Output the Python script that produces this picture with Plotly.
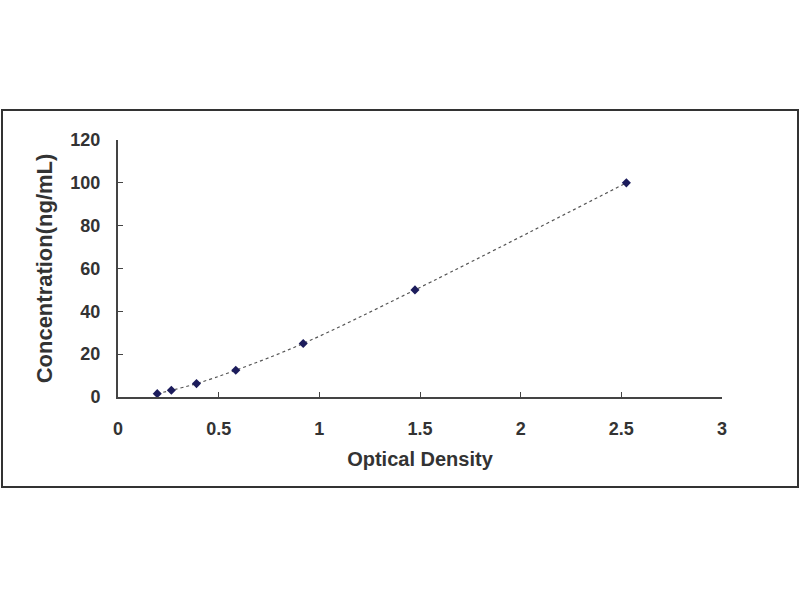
import plotly.graph_objects as go

optical_density = [0.195, 0.265, 0.39, 0.585, 0.92, 1.475, 2.525]
concentration = [1.56, 3.12, 6.25, 12.5, 25, 50, 100]
x_ticks = [0, 0.5, 1, 1.5, 2, 2.5, 3]
x_tick_labels = ["0", "0.5", "1", "1.5", "2", "2.5", "3"]
y_ticks = [0, 20, 40, 60, 80, 100, 120]

W, H = 800, 600
L, R, T, B = 118, 78, 140, 203
pw, ph = W - L - R, H - T - B

fig = go.Figure()
fig.add_trace(go.Scatter(
    x=optical_density, y=concentration,
    mode="lines+markers",
    line=dict(shape="spline", color="#555555", width=1.2, dash="dot"),
    marker=dict(symbol="diamond", size=7, color="#1c1c5c"),
    showlegend=False,
))

font_family = "Liberation Sans, Arial, sans-serif"
fig.update_layout(
    width=W, height=H,
    margin=dict(l=L, r=R, t=T, b=B),
    paper_bgcolor="white", plot_bgcolor="white",
    font=dict(family=font_family, color="#333333"),
    xaxis=dict(
        range=[0, 3], tickvals=x_ticks, ticktext=x_tick_labels,
        showgrid=False, zeroline=False, showline=True, linecolor="#444444", linewidth=2,
        ticks="inside", ticklen=5, tickcolor="#444444",
        tickfont=dict(size=18, family=font_family, color="#333333", weight="bold"),
        ticklabelstandoff=14,
        title=dict(text="<b>Optical Density</b>", font=dict(size=20), standoff=14),
    ),
    yaxis=dict(
        range=[0, 120], tickvals=y_ticks,
        showgrid=False, zeroline=False, showline=True, linecolor="#444444", linewidth=2,
        ticks="inside", ticklen=5, tickcolor="#444444",
        tickfont=dict(size=18, family=font_family, color="#333333", weight="bold"),
        ticklabelstandoff=12,
        title=dict(text="<b>Concentration(ng/mL)</b>", font=dict(size=22), standoff=12),
    ),
    shapes=[dict(
        type="rect", xref="paper", yref="paper",
        x0=(2 - L) / pw, x1=(798 - L) / pw,
        y0=(H - B - 487) / ph, y1=(H - B - 110) / ph,
        line=dict(color="#333333", width=2), fillcolor="rgba(0,0,0,0)", layer="below",
    )],
)

fig.write_html("out.html", config={"displayModeBar": False},
               post_script="document.body.style.margin='0';")
